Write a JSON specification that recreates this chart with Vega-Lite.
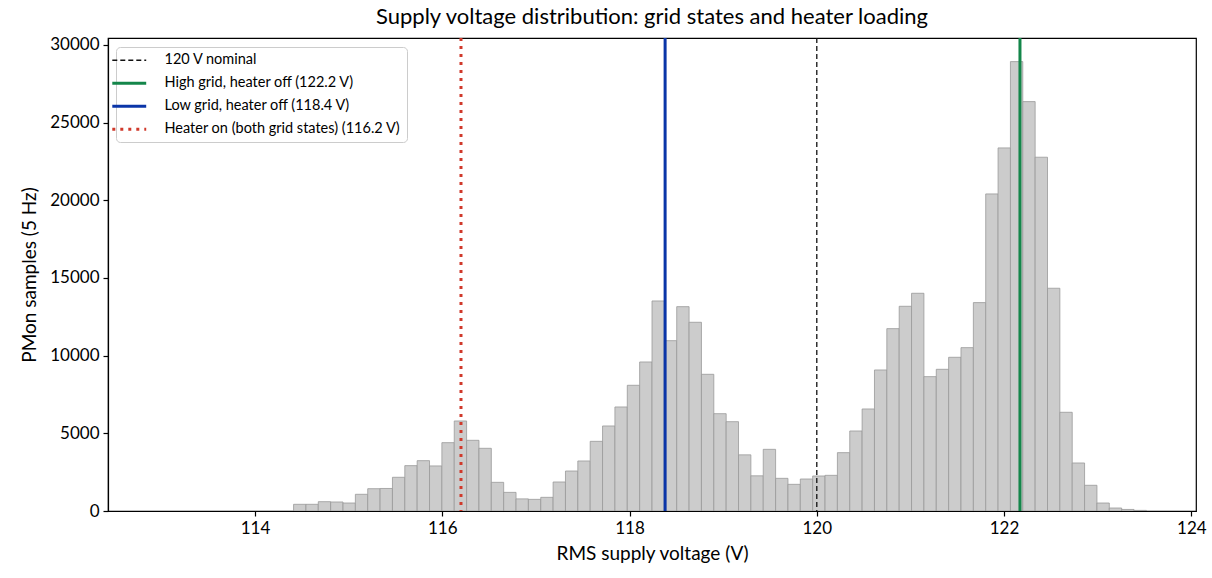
{
  "$schema": "https://vega.github.io/schema/vega-lite/v6.json",
  "width": 1088,
  "height": 473,
  "autosize": {"type": "none"},
  "padding": {"left": 108, "top": 38, "right": 16, "bottom": 67},
  "background": "white",
  "title": {"text": "Supply voltage distribution: grid states and heater loading", "fontSize": 22, "fontWeight": "normal", "font": "Lato", "color": "black", "offset": 7},
  "config": {
    "font": "Lato",
    "view": {"stroke": "black", "strokeWidth": 1.2},
    "axis": {"domainColor": "black", "tickColor": "black", "labelColor": "black", "titleColor": "black", "labelFontSize": 17, "titleFontSize": 19, "titleFontWeight": "normal", "grid": false, "tickSize": 5, "domainWidth": 1.2, "tickWidth": 1.2}
  },
  "datasets": {
    "bins": [
      {"start": 114.412, "end": 114.544, "count": 430},
      {"start": 114.544, "end": 114.676, "count": 430},
      {"start": 114.676, "end": 114.808, "count": 600},
      {"start": 114.808, "end": 114.940, "count": 580},
      {"start": 114.940, "end": 115.072, "count": 515},
      {"start": 115.072, "end": 115.204, "count": 1075},
      {"start": 115.204, "end": 115.336, "count": 1436},
      {"start": 115.336, "end": 115.468, "count": 1450},
      {"start": 115.468, "end": 115.600, "count": 2170},
      {"start": 115.600, "end": 115.732, "count": 2920},
      {"start": 115.732, "end": 115.864, "count": 3240},
      {"start": 115.864, "end": 115.996, "count": 2900},
      {"start": 115.996, "end": 116.128, "count": 4400},
      {"start": 116.128, "end": 116.260, "count": 5795},
      {"start": 116.260, "end": 116.392, "count": 4550},
      {"start": 116.392, "end": 116.524, "count": 4035},
      {"start": 116.524, "end": 116.656, "count": 1845},
      {"start": 116.656, "end": 116.788, "count": 1200},
      {"start": 116.788, "end": 116.920, "count": 780},
      {"start": 116.920, "end": 117.052, "count": 750},
      {"start": 117.052, "end": 117.184, "count": 880},
      {"start": 117.184, "end": 117.316, "count": 1867},
      {"start": 117.316, "end": 117.448, "count": 2575},
      {"start": 117.448, "end": 117.580, "count": 3220},
      {"start": 117.580, "end": 117.712, "count": 4485},
      {"start": 117.712, "end": 117.844, "count": 5473},
      {"start": 117.844, "end": 117.976, "count": 6697},
      {"start": 117.976, "end": 118.108, "count": 8093},
      {"start": 118.108, "end": 118.240, "count": 9594},
      {"start": 118.240, "end": 118.372, "count": 13522},
      {"start": 118.372, "end": 118.504, "count": 10966},
      {"start": 118.504, "end": 118.636, "count": 13155},
      {"start": 118.636, "end": 118.768, "count": 12150},
      {"start": 118.768, "end": 118.900, "count": 8800},
      {"start": 118.900, "end": 119.032, "count": 6265},
      {"start": 119.032, "end": 119.164, "count": 5750},
      {"start": 119.164, "end": 119.296, "count": 3615},
      {"start": 119.296, "end": 119.428, "count": 2265},
      {"start": 119.428, "end": 119.560, "count": 3970},
      {"start": 119.560, "end": 119.692, "count": 2103},
      {"start": 119.692, "end": 119.824, "count": 1717},
      {"start": 119.824, "end": 119.956, "count": 2060},
      {"start": 119.956, "end": 120.088, "count": 2254},
      {"start": 120.088, "end": 120.220, "count": 2296},
      {"start": 120.220, "end": 120.352, "count": 3756},
      {"start": 120.352, "end": 120.484, "count": 5151},
      {"start": 120.484, "end": 120.616, "count": 6568},
      {"start": 120.616, "end": 120.748, "count": 9079},
      {"start": 120.748, "end": 120.880, "count": 11740},
      {"start": 120.880, "end": 121.012, "count": 13179},
      {"start": 121.012, "end": 121.144, "count": 14016},
      {"start": 121.144, "end": 121.276, "count": 8650},
      {"start": 121.276, "end": 121.408, "count": 9122},
      {"start": 121.408, "end": 121.540, "count": 9895},
      {"start": 121.540, "end": 121.672, "count": 10517},
      {"start": 121.672, "end": 121.804, "count": 13415},
      {"start": 121.804, "end": 121.936, "count": 20412},
      {"start": 121.936, "end": 122.068, "count": 23374},
      {"start": 122.068, "end": 122.200, "count": 28931},
      {"start": 122.200, "end": 122.332, "count": 26356},
      {"start": 122.332, "end": 122.464, "count": 22775},
      {"start": 122.464, "end": 122.596, "count": 14340},
      {"start": 122.596, "end": 122.728, "count": 6355},
      {"start": 122.728, "end": 122.860, "count": 3091},
      {"start": 122.860, "end": 122.992, "count": 1655},
      {"start": 122.992, "end": 123.124, "count": 515},
      {"start": 123.124, "end": 123.256, "count": 193},
      {"start": 123.256, "end": 123.388, "count": 100},
      {"start": 123.388, "end": 123.520, "count": 40}
    ],
    "lines": [
      {"label": "120 V nominal", "v": 120.0},
      {"label": "High grid, heater off (122.2 V)", "v": 122.17},
      {"label": "Low grid, heater off (118.4 V)", "v": 118.38},
      {"label": "Heater on (both grid states) (116.2 V)", "v": 116.2}
    ]
  },
  "layer": [
    {
      "data": {"name": "bins"},
      "mark": {"type": "rect", "fill": "#cccccc", "stroke": "#999999", "strokeWidth": 0.8, "clip": true},
      "encoding": {
        "x": {"field": "start", "type": "quantitative", "scale": {"domain": [112.43, 124.05], "nice": false, "zero": false},
              "axis": {"values": [114, 116, 118, 120, 122, 124], "title": "RMS supply voltage (V)", "labelPadding": 4, "titlePadding": 8, "format": "d"}},
        "x2": {"field": "end"},
        "y": {"field": "count", "type": "quantitative", "scale": {"domain": [0, 30450], "nice": false},
              "axis": {"values": [0, 5000, 10000, 15000, 20000, 25000, 30000], "format": "d", "title": "PMon samples (5 Hz)", "titlePadding": 10, "labelPadding": 4}},
        "y2": {"datum": 0}
      }
    },
    {
      "data": {"name": "lines"},
      "mark": {"type": "rule"},
      "encoding": {
        "x": {"field": "v", "type": "quantitative"},
        "color": {"field": "label", "type": "nominal",
          "scale": {"domain": ["120 V nominal", "High grid, heater off (122.2 V)", "Low grid, heater off (118.4 V)", "Heater on (both grid states) (116.2 V)"],
                    "range": ["#111111", "#14864a", "#0a35a8", "#d0392b"]},
          "legend": {"title": null, "orient": "none", "legendX": 8, "legendY": 9, "symbolType": "stroke", "symbolSize": 1150, "labelFontSize": 14.5, "labelColor": "black", "fillColor": "white", "strokeColor": "#cccccc", "cornerRadius": 4, "padding": 6, "rowPadding": 8, "labelOffset": 28, "labelLimit": 400, "symbolOpacity": 1,
            "encode": {"symbols": {"update": {"strokeWidth": {"signal": "datum.value === '120 V nominal' ? 1.3 : 3"}}}}}},
        "strokeDash": {"field": "label", "type": "nominal",
          "scale": {"domain": ["120 V nominal", "High grid, heater off (122.2 V)", "Low grid, heater off (118.4 V)", "Heater on (both grid states) (116.2 V)"],
                    "range": [[5, 3], [1, 0], [1, 0], [3, 5]]}},
        "strokeWidth": {"condition": {"test": "datum.label === '120 V nominal'", "value": 1.3}, "value": 3}
      }
    }
  ]
}
